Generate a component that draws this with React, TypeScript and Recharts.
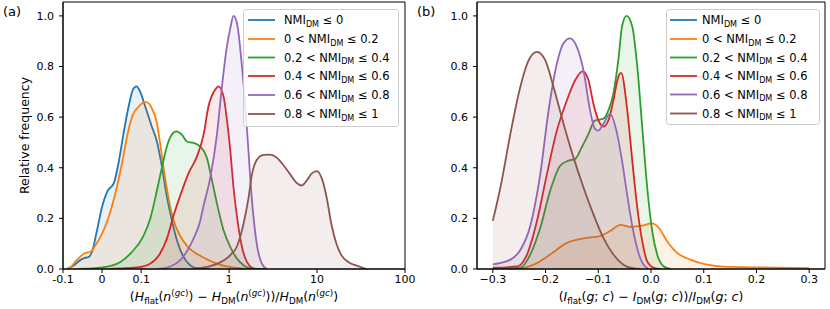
import React from 'react';
import { ComposedChart, Area, XAxis, YAxis, ReferenceArea } from 'recharts';

// ---------- categories / legend ----------
const SERIES_NAMES = ['≤ 0', '0 <', '0.2 <', '0.4 <', '0.6 <', '0.8 <'];
const LEGEND_PRE = ['', '0 < ', '0.2 < ', '0.4 < ', '0.6 < ', '0.8 < '];
const LEGEND_POST = [' ≤ 0', ' ≤ 0.2', ' ≤ 0.4', ' ≤ 0.6', ' ≤ 0.8', ' ≤ 1'];
const COLORS = ['#1f77b4', '#ff7f0e', '#2ca02c', '#d62728', '#9467bd', '#8c564b'];
const KEYS = ['s0', 's1', 's2', 's3', 's4', 's5'];

// ---------- panel (a): x = (Hflat - HDM)/HDM, y = relative frequency ----------
const A_BLUE = [[-0.09, 0], [-0.075, 0.012], [-0.055, 0.036], [-0.045, 0.044], [-0.035, 0.047], [-0.026, 0.067], [-0.013, 0.153], [0, 0.246], [0.013, 0.306], [0.03, 0.339], [0.042, 0.418], [0.055, 0.537], [0.068, 0.643], [0.079, 0.709], [0.088, 0.722], [0.097, 0.702], [0.111, 0.643], [0.132, 0.563], [0.151, 0.504], [0.172, 0.405], [0.196, 0.286], [0.223, 0.193], [0.255, 0.114], [0.303, 0.048], [0.361, 0.015], [0.43, 0.003], [0.6, 0]];
const A_ORANGE = [[-0.09, 0], [-0.08, 0.008], [-0.068, 0.03], [-0.055, 0.05], [-0.045, 0.062], [-0.03, 0.068], [-0.017, 0.094], [0, 0.14], [0.017, 0.206], [0.034, 0.299], [0.051, 0.418], [0.064, 0.524], [0.077, 0.603], [0.094, 0.643], [0.114, 0.659], [0.132, 0.636], [0.151, 0.577], [0.164, 0.498], [0.179, 0.405], [0.2, 0.3], [0.23, 0.2], [0.278, 0.13], [0.331, 0.092], [0.469, 0.052], [0.61, 0.032], [0.8, 0.016], [1.1, 0.006], [1.7, 0]];
const A_GREEN = [[-0.06, 0], [0, 0.006], [0.047, 0.028], [0.076, 0.067], [0.106, 0.13], [0.127, 0.2], [0.151, 0.31], [0.172, 0.4], [0.196, 0.484], [0.223, 0.531], [0.25, 0.544], [0.29, 0.531], [0.331, 0.504], [0.394, 0.498], [0.469, 0.484], [0.559, 0.44], [0.637, 0.352], [0.726, 0.26], [0.863, 0.154], [1.03, 0.087], [1.23, 0.041], [1.46, 0.015], [1.74, 0.003], [2.5, 0]];
const A_RED = [[0.02, 0], [0.06, 0.003], [0.089, 0.006], [0.1265, 0.021], [0.164, 0.061], [0.196, 0.12], [0.233, 0.21], [0.278, 0.29], [0.345, 0.378], [0.43, 0.444], [0.512, 0.53], [0.583, 0.643], [0.695, 0.709], [0.757, 0.722], [0.863, 0.683], [0.944, 0.59], [1.03, 0.471], [1.12, 0.325], [1.23, 0.206], [1.4, 0.087], [1.59, 0.028], [1.9, 0]];
const A_PURPLE = [[0.15, 0], [0.214, 0.01], [0.278, 0.035], [0.331, 0.07], [0.394, 0.12], [0.469, 0.19], [0.512, 0.25], [0.61, 0.36], [0.726, 0.53], [0.828, 0.72], [0.944, 0.88], [1.03, 0.95], [1.12, 1.0], [1.23, 0.97], [1.4, 0.8], [1.59, 0.56], [1.81, 0.28], [2.06, 0.1], [2.35, 0.022], [2.68, 0]];
const A_BROWN = [[0.4, 0], [0.726, 0.02], [1.03, 0.055], [1.23, 0.09], [1.46, 0.18], [1.66, 0.28], [1.81, 0.37], [2.06, 0.431], [2.46, 0.451], [2.92, 0.452], [3.48, 0.44], [4.15, 0.41], [4.93, 0.375], [5.88, 0.34], [6.7, 0.33], [7.65, 0.35], [8.71, 0.378], [9.96, 0.387], [11.4, 0.355], [12.9, 0.28], [14.5, 0.18], [16.6, 0.1], [18.9, 0.055], [22.6, 0.028], [28.4, 0.013], [36.1, 0]];
const A_TICKS = [-0.1, 0, 0.1, 1, 10, 100];
const A_TICK_LABELS = ['-0.1', '0', '0.1', '1', '10', '100'];

// ---------- panel (b): x = (Iflat - IDM)/IDM ----------
const B_ORANGE = [[-0.3, 0.001], [-0.2479, 0.003], [-0.2225, 0.017], [-0.1912, 0.057], [-0.1596, 0.103], [-0.128, 0.121], [-0.0967, 0.13], [-0.0778, 0.15], [-0.0576, 0.174], [-0.0387, 0.166], [-0.0198, 0.17], [0.0023, 0.18], [0.0147, 0.163], [0.0306, 0.11], [0.0495, 0.064], [0.0746, 0.037], [0.1062, 0.017], [0.1376, 0.009], [0.2131, 0.006], [0.3, 0.003]];
const B_GREEN = [[-0.3, 0.003], [-0.2479, 0.005], [-0.229, 0.057], [-0.21, 0.163], [-0.1912, 0.309], [-0.1723, 0.408], [-0.1564, 0.428], [-0.1439, 0.435], [-0.1313, 0.481], [-0.1186, 0.534], [-0.1062, 0.587], [-0.0903, 0.594], [-0.0808, 0.627], [-0.0714, 0.693], [-0.062, 0.825], [-0.0548, 0.96], [-0.0463, 1.0], [-0.0355, 0.958], [-0.026, 0.799], [-0.0166, 0.56], [-0.0072, 0.322], [0.0023, 0.15], [0.0117, 0.057], [0.0242, 0.01], [0.0369, 0]];
const B_RED = [[-0.3, 0.005], [-0.254, 0.01], [-0.2352, 0.057], [-0.2163, 0.19], [-0.1974, 0.375], [-0.1785, 0.547], [-0.1596, 0.666], [-0.1439, 0.746], [-0.1294, 0.781], [-0.1186, 0.746], [-0.1092, 0.653], [-0.0997, 0.587], [-0.0903, 0.563], [-0.0808, 0.587], [-0.0714, 0.666], [-0.062, 0.759], [-0.0567, 0.775], [-0.045, 0.627], [-0.0355, 0.428], [-0.026, 0.242], [-0.0166, 0.11], [-0.0072, 0.03], [0.0053, 0.005], [0.018, 0]];
const B_PURPLE = [[-0.3, 0.018], [-0.2667, 0.037], [-0.2479, 0.075], [-0.229, 0.17], [-0.21, 0.375], [-0.1942, 0.627], [-0.1785, 0.812], [-0.1659, 0.892], [-0.1534, 0.911], [-0.1407, 0.878], [-0.128, 0.785], [-0.1156, 0.627], [-0.1062, 0.554], [-0.0997, 0.547], [-0.0903, 0.574], [-0.0778, 0.613], [-0.0638, 0.53], [-0.0544, 0.42], [-0.045, 0.29], [-0.0355, 0.17], [-0.026, 0.08], [-0.0166, 0.025], [-0.0047, 0]];
const B_BROWN = [[-0.3, 0.19], [-0.2856, 0.322], [-0.2667, 0.534], [-0.2479, 0.719], [-0.232, 0.825], [-0.2163, 0.858], [-0.2006, 0.825], [-0.1848, 0.719], [-0.1659, 0.574], [-0.147, 0.441], [-0.128, 0.322], [-0.1092, 0.216], [-0.0903, 0.123], [-0.0714, 0.057], [-0.0525, 0.017], [-0.035, 0.003], [-0.02, 0]];
const B_TICKS = [-0.3, -0.2, -0.1, 0, 0.1, 0.2, 0.3];

const Y_TICKS = [0, 0.2, 0.4, 0.6, 0.8, 1.0];

// symlog transform (linthresh 0.1, linscale 0.4, base 10)
const LIN = 0.4 / 0.9;
const symlog = (x: number) => {
  const a = Math.abs(x);
  return a <= 0.1 ? (x / 0.1) * LIN : Math.sign(x) * (LIN + Math.log10(a / 0.1));
};

type Pts = number[][];
function buildRows(series: (Pts | null)[], tf: (x: number) => number) {
  const rows: any[] = [];
  series.forEach((pts, i) => {
    if (!pts) return;
    pts.forEach(([x, y]) => rows.push({ t: tf(x), [KEYS[i]]: y }));
  });
  rows.sort((a, b) => a.t - b.t);
  return rows;
}

const rowsA = buildRows([A_BLUE, A_ORANGE, A_GREEN, A_RED, A_PURPLE, A_BROWN], symlog);
const rowsB = buildRows([null, B_ORANGE, B_GREEN, B_RED, B_PURPLE, B_BROWN], (x) => x);

const FONT = 'DejaVu Sans, sans-serif';
const TICK = { fill: '#000', fontSize: 11, fontFamily: FONT };

type Part = { t: string; i?: boolean; s?: 'sub' | 'sup' };
function MathText({ x, y, parts, size, anchor = 'start' }: { x: number; y: number; parts: Part[]; size: number; anchor?: string }) {
  let cur = 0;
  return (
    <text x={x} y={y} fontSize={size} textAnchor={anchor as any} fontFamily={FONT} fill="#000">
      {parts.map((p, k) => {
        const target = p.s === 'sub' ? size * 0.22 : p.s === 'sup' ? -size * 0.42 : 0;
        const dy = target - cur;
        cur = target;
        return (
          <tspan key={k} dy={dy} fontSize={p.s ? size * 0.7 : size} fontStyle={p.i ? 'italic' : 'normal'}>
            {p.t}
          </tspan>
        );
      })}
    </text>
  );
}

const XLABEL_A: Part[] = [
  { t: '(' }, { t: 'H', i: true }, { t: 'flat', s: 'sub' }, { t: '(' }, { t: 'n', i: true }, { t: '(', s: 'sup' }, { t: 'gc', s: 'sup', i: true }, { t: ')', s: 'sup' },
  { t: ') − ' }, { t: 'H', i: true }, { t: 'DM', s: 'sub' }, { t: '(' }, { t: 'n', i: true }, { t: '(', s: 'sup' }, { t: 'gc', s: 'sup', i: true }, { t: ')', s: 'sup' },
  { t: '))/' }, { t: 'H', i: true }, { t: 'DM', s: 'sub' }, { t: '(' }, { t: 'n', i: true }, { t: '(', s: 'sup' }, { t: 'gc', s: 'sup', i: true }, { t: ')', s: 'sup' }, { t: ')' },
];
const XLABEL_B: Part[] = [
  { t: '(' }, { t: 'I', i: true }, { t: 'flat', s: 'sub' }, { t: '(' }, { t: 'g', i: true }, { t: '; ' }, { t: 'c', i: true }, { t: ') − ' },
  { t: 'I', i: true }, { t: 'DM', s: 'sub' }, { t: '(' }, { t: 'g', i: true }, { t: '; ' }, { t: 'c', i: true }, { t: '))/' },
  { t: 'I', i: true }, { t: 'DM', s: 'sub' }, { t: '(' }, { t: 'g', i: true }, { t: '; ' }, { t: 'c', i: true }, { t: ')' },
];

function Legend({ x, y, w, h, lineX, textX, rows }: { x: number; y: number; w: number; h: number; lineX: number; textX: number; rows: number[] }) {
  return (
    <g>
      <rect x={x + 0.5} y={y + 0.5} width={w} height={h} rx={3} fill="#fff" fillOpacity={0.8} stroke="#cccccc" strokeWidth={1} />
      {rows.map((ry, i) => (
        <g key={i}>
          <line x1={lineX} x2={lineX + 27} y1={ry} y2={ry} stroke={COLORS[i]} strokeWidth={1.8} />
          <MathText
            x={textX}
            y={ry + 4}
            size={11.5}
            parts={[{ t: LEGEND_PRE[i] + 'NMI' }, { t: 'DM', s: 'sub' }, { t: LEGEND_POST[i] }]}
          />
        </g>
      ))}
    </g>
  );
}

function Series() {
  return KEYS.map((k, i) => (
    <Area
      key={k}
      name={SERIES_NAMES[i]}
      type="monotone"
      dataKey={k}
      stroke={COLORS[i]}
      strokeWidth={1.8}
      fill={COLORS[i]}
      fillOpacity={0.1}
      connectNulls
      dot={false}
      activeDot={false}
      isAnimationActive={false}
    />
  ));
}

export default function App() {
  return (
    <div style={{ position: 'absolute', left: 0, top: 0, width: 830, height: 309, background: '#fff', fontFamily: FONT }}>
      <div style={{ position: 'absolute', left: 0, top: 0 }}>
        <ComposedChart width={415} height={309} data={rowsA} margin={{ top: 2, right: 10, bottom: 0, left: 0 }}>
          <XAxis
            dataKey="t"
            type="number"
            domain={[-LIN, 3 + LIN]}
            ticks={A_TICKS.map(symlog)}
            tickFormatter={(v: number) => {
              const idx = A_TICKS.map(symlog).findIndex((t) => Math.abs(t - v) < 1e-6);
              return idx >= 0 ? A_TICK_LABELS[idx] : '';
            }}
            interval={0}
            allowDataOverflow
            height={40}
            tick={TICK}
            tickSize={4}
            tickMargin={2}
            stroke="#000"
          />
          <YAxis type="number" domain={[0, 1.055]} ticks={Y_TICKS} tickFormatter={(v: number) => v.toFixed(1)} interval={0} width={63} tick={TICK} tickSize={4} tickMargin={5} stroke="#000" allowDataOverflow />
          {Series()}
          <ReferenceArea x1={-LIN} x2={3 + LIN} y1={0} y2={1.055} fill="none" stroke="#000" strokeWidth={1} ifOverflow="visible" />
        </ComposedChart>
      </div>
      <div style={{ position: 'absolute', left: 415, top: 0 }}>
        <ComposedChart width={415} height={309} data={rowsB} margin={{ top: 2, right: 5, bottom: 0, left: 0 }}>
          <XAxis
            dataKey="t"
            type="number"
            domain={[-0.33, 0.33]}
            ticks={B_TICKS}
            tickFormatter={(v: number) => (v < -1e-9 ? '−' + Math.abs(v).toFixed(1) : Math.abs(v).toFixed(1))}
            interval={0}
            allowDataOverflow
            height={40}
            tick={TICK}
            tickSize={4}
            tickMargin={2}
            stroke="#000"
          />
          <YAxis type="number" domain={[0, 1.055]} ticks={Y_TICKS} tickFormatter={(v: number) => v.toFixed(1)} interval={0} width={62} tick={TICK} tickSize={4} tickMargin={5} stroke="#000" allowDataOverflow />
          {Series()}
          <ReferenceArea x1={-0.33} x2={0.33} y1={0} y2={1.055} fill="none" stroke="#000" strokeWidth={1} ifOverflow="visible" />
        </ComposedChart>
      </div>
      <svg width={830} height={309} style={{ position: 'absolute', left: 0, top: 0, pointerEvents: 'none' }}>
        <text x={3} y={16} fontSize={13} fontFamily={FONT} fill="#000">(a)</text>
        <text x={417} y={16} fontSize={13} fontFamily={FONT} fill="#000">(b)</text>
        <text transform="translate(24,135.5) rotate(-90)" textAnchor="middle" dominantBaseline="central" fontSize={12.5} fontFamily={FONT} fill="#000">
          Relative frequency
        </text>
        <MathText x={234} y={301} size={12.5} anchor="middle" parts={XLABEL_A} />
        <MathText x={651} y={301} size={12.5} anchor="middle" parts={XLABEL_B} />
        <Legend x={243} y={9} w={155} h={117} lineX={248} textX={284} rows={[20, 39, 57.5, 76, 95, 114]} />
        <Legend x={666} y={9} w={153} h={115} lineX={670} textX={702} rows={[20, 39, 57.5, 76, 94.5, 113.5]} />
      </svg>
    </div>
  );
}
